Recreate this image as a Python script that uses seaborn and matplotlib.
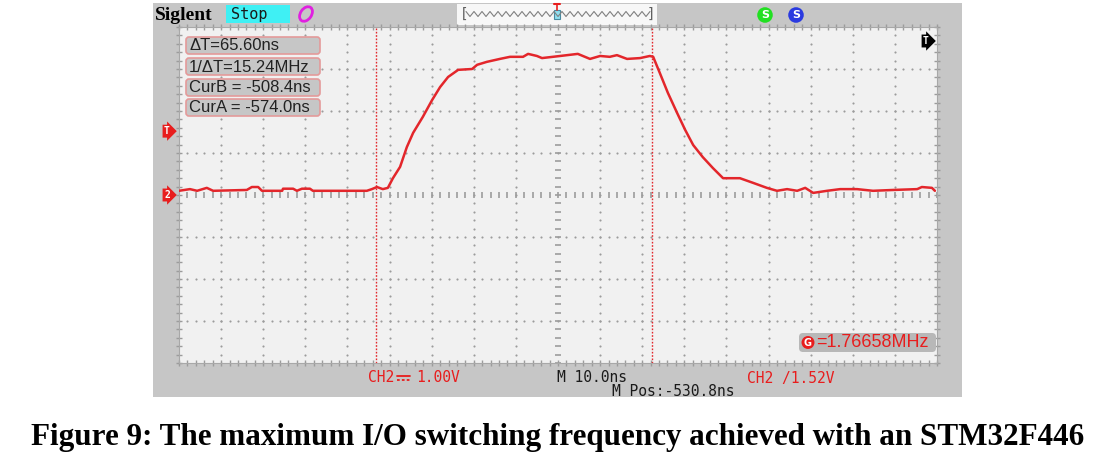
import numpy as np
import pandas as pd
import matplotlib.pyplot as plt
import matplotlib.transforms as mtransforms
from matplotlib.patches import Rectangle, FancyBboxPatch, Ellipse
import seaborn as sns

time_ns = [-620.8, -618.2, -616.5, -614.2, -612.7, -604.7, -603.5, -602.0, -601.1,
           -596.3, -596.1, -593.7, -592.8, -591.6, -589.7, -589.0, -576.2, -575.0,
           -573.8, -572.4, -571.2, -570.0, -568.3, -566.7, -565.2, -562.9, -560.7,
           -558.8, -556.9, -554.5, -551.2, -550.0, -547.7, -544.6, -542.2, -539.1,
           -537.9, -535.8, -534.6, -530.3, -526.1, -523.2, -520.8, -518.5, -516.8,
           -514.4, -511.3, -509.0, -508.2, -506.6, -504.7, -502.5, -500.6, -498.7,
           -496.4, -494.0, -491.6, -487.6, -484.5, -481.2, -478.8, -476.4, -474.0,
           -472.1, -470.2, -466.9, -463.8, -459.8, -456.0, -451.2, -445.5, -444.4,
           -442.0, -441.3]
volts = [0.10, 0.14, 0.10, 0.17, 0.10, 0.12, 0.19, 0.19, 0.10,
         0.10, 0.15, 0.15, 0.10, 0.15, 0.15, 0.10, 0.10, 0.14,
         0.19, 0.14, 0.17, 0.40, 0.67, 1.14, 1.48, 1.86, 2.26,
         2.57, 2.81, 2.98, 3.00, 3.10, 3.17, 3.24, 3.29, 3.29,
         3.36, 3.31, 3.26, 3.31, 3.36, 3.24, 3.31, 3.29, 3.33,
         3.24, 3.26, 3.31, 3.29, 2.90, 2.43, 1.95, 1.55, 1.19,
         0.90, 0.64, 0.40, 0.40, 0.29, 0.17, 0.10, 0.14, 0.10,
         0.17, 0.05, 0.10, 0.14, 0.14, 0.10, 0.12, 0.14, 0.19,
         0.17, 0.10]

m_pos = -530.8        # ns, screen centre
time_div = 10.0       # ns/div
volt_div = 1.00       # V/div
trig_level = 1.52     # V
cur_a = -574.0        # ns
cur_b = -508.4        # ns
freq_mhz = 1.76658

df = pd.DataFrame({'t': time_ns, 'v': volts})

RED = '#e3262b'
LRED = '#e81d1d'
FRAME = '#c6c6c6'
SCREEN = '#f1f1f1'
DOT = '#9c9c9c'

sns.set_theme(style='white')
plt.rcParams['font.family'] = ['DejaVu Sans']

W, H = 1108, 467
fig = plt.figure(figsize=(W / 100, H / 100), dpi=100)
fig.patch.set_facecolor('white')


def pixel_axes(z):
    a = fig.add_axes([0, 0, 1, 1], zorder=z)
    a.set_xlim(0, W)
    a.set_ylim(H, 0)
    a.axis('off')
    a.patch.set_alpha(0)
    return a


# background layer (frame, labels, caption) and overlay layer (on-screen readouts)
bg = pixel_axes(0)
top = pixel_axes(10)
bg.add_patch(Rectangle((153, 3), 809, 394, facecolor=FRAME, edgecolor='none'))

# screen axes
sx0, sx1, sy0, sy1 = 179, 937, 27, 363
ax = fig.add_axes([sx0 / W, 1 - sy1 / H, (sx1 - sx0) / W, (sy1 - sy0) / H], zorder=2)
ax.set_facecolor(SCREEN)
ax.set_xlim(m_pos - 9 * time_div, m_pos + 9 * time_div)
ax.set_ylim(-4 * volt_div, 4 * volt_div)
ax.set_xticks([])
ax.set_yticks([])
for s in ax.spines.values():
    s.set_color('#a8a8a8')
    s.set_linewidth(0.8)

# graticule: dotted lines every division, sub-dots every 1/5 division
xl, yl = ax.get_xlim(), ax.get_ylim()
fine_t = np.arange(xl[0], xl[1] + 1e-6, time_div / 5)
fine_v = np.arange(yl[0], yl[1] + 1e-6, volt_div / 5)
for k in range(-8, 9):
    if k == 0:
        continue
    ax.scatter(np.full(fine_v.size, m_pos + k * time_div), fine_v, s=2.4, color=DOT, lw=0, zorder=1)
for k in range(-3, 4):
    if k == 0:
        continue
    ax.scatter(fine_t, np.full(fine_t.size, k * volt_div), s=2.4, color=DOT, lw=0, zorder=1)
# centre cross with small dashes
ax.plot(fine_t, np.zeros(fine_t.size), ls='none', marker='|', ms=5, mew=1.2, color=DOT, zorder=1)
ax.plot(np.full(fine_v.size, m_pos), fine_v, ls='none', marker='_', ms=5, mew=1.2, color=DOT, zorder=1)
# edge ticks
for yv in yl:
    ax.plot(fine_t, np.full(fine_t.size, yv), ls='none', marker='|', ms=5, mew=1.0, color=DOT,
            zorder=1, clip_on=False)
for xv in xl:
    ax.plot(np.full(fine_v.size, xv), fine_v, ls='none', marker='_', ms=5, mew=1.0, color=DOT,
            zorder=1, clip_on=False)

# cursors
for c in (cur_a, cur_b):
    ax.axvline(c, color=RED, lw=1.0, ls=(0, (1.2, 1.2)), zorder=2)

# trace
sns.lineplot(data=df, x='t', y='v', ax=ax, color=RED, linewidth=1.8, sort=False,
             estimator=None, zorder=3)
ax.set_xlabel('')
ax.set_ylabel('')

# left-side level markers
tr = mtransforms.blended_transform_factory(ax.transAxes, ax.transData)
for lvl, lab in ((trig_level, 'T'), (0, '2')):
    ax.text(-0.012, lvl, lab, transform=tr, ha='right', va='center', fontsize=7,
            fontweight='bold', color='white', clip_on=False, family='DejaVu Sans Mono',
            bbox=dict(boxstyle='rarrow,pad=0.15', fc=LRED, ec='none'))

# cursor readout boxes
delta = cur_b - cur_a
readouts = [f'\u0394T={delta:.2f}ns',
            f'1/\u0394T={1000 / delta:.2f}MHz',
            f'CurB = {cur_b:.1f}ns',
            f'CurA = {cur_a:.1f}ns']
box_tops = [37, 58, 79, 99]
for txt, y0 in zip(readouts, box_tops):
    top.add_patch(FancyBboxPatch((186, y0), 134, 17, boxstyle='round,pad=0,rounding_size=3',
                                 fc=FRAME, ec='#e49a9a', lw=1.2))
    top.text(189, y0 + 9, txt, ha='left', va='center', fontsize=12, color='#222222',
             family='Liberation Sans')

# frequency counter box
top.add_patch(FancyBboxPatch((799, 333), 137, 19, boxstyle='round,pad=0,rounding_size=4',
                             fc='#b8b8b8', ec='none'))
top.text(808, 342.5, 'G', ha='center', va='center', fontsize=7, fontweight='bold',
         color='white', bbox=dict(boxstyle='circle,pad=0.15', fc=LRED, ec='none'))
top.text(816, 342.5, f'={freq_mhz:.5f}MHz', ha='left', va='center', fontsize=13,
         color=LRED, family='Liberation Sans')

# trigger position marker (top right)
top.text(926, 41, 'T', ha='center', va='center', fontsize=7, fontweight='bold', color='white',
         family='DejaVu Sans Mono',
         bbox=dict(boxstyle='rarrow,pad=0.15', fc='black', ec='none'))

# top status bar
bg.text(155, 15, 'Siglent', ha='left', va='center', fontsize=14, fontweight='bold',
        family='Liberation Serif', color='black')
bg.add_patch(Rectangle((226, 5), 64, 18, fc='#3ff0f4', ec='none'))
bg.text(231, 14, 'Stop', ha='left', va='center', fontsize=11, color='#1a1a1a',
        family='DejaVu Sans Mono')
bg.add_patch(Ellipse((306, 14), 11, 16, angle=35, fc='none', ec='#e020e0', lw=2.0))
bg.add_patch(Rectangle((457, 4), 200, 21, fc='#f7f7f7', ec='none'))
# memory overview: bracketed zigzag with the trigger position mark
zz_x = np.linspace(466, 650, 47)
zz_y = 14 + np.where(np.arange(zz_x.size) % 2 == 0, -2.5, 2.5)
bg.plot(zz_x, zz_y, color='#808080', lw=0.8)
bg.text(460, 14, '[', ha='left', va='center', fontsize=10, color='#606060', family='DejaVu Sans Mono')
bg.text(655, 14, ']', ha='right', va='center', fontsize=10, color='#606060', family='DejaVu Sans Mono')
bg.add_patch(Rectangle((554, 10), 6, 9, fc='#8fe0f0', ec='#4a8aa0', lw=0.8))
bg.plot([557, 557], [4, 10], color=LRED, lw=1.2)
bg.plot([554, 560], [4, 4], color=LRED, lw=1.5)
bg.text(765, 15, 'S', ha='center', va='center', fontsize=8, fontweight='bold', color='white',
        bbox=dict(boxstyle='circle,pad=0.25', fc='#22e022', ec='none'))
bg.text(796, 15, 'S', ha='center', va='center', fontsize=8, fontweight='bold', color='white',
        bbox=dict(boxstyle='circle,pad=0.25', fc='#2a3ae0', ec='none'))

# bottom status line (DC coupling sign drawn as a solid bar over a dashed bar)
bg.text(368, 378, 'CH2', ha='left', va='center', fontsize=10.5, color=LRED,
        family='DejaVu Sans Mono')
bg.plot([397, 410], [375.5, 375.5], color=LRED, lw=1.3)
bg.plot([397, 410], [380, 380], color=LRED, lw=1.3, ls=(0, (1.5, 1.2)))
bg.text(416, 378, f'{volt_div:.2f}V', ha='left', va='center', fontsize=10.5, color=LRED,
        family='DejaVu Sans Mono')
bg.text(557, 378, f'M {time_div:.1f}ns', ha='left', va='center', fontsize=10.5,
        color='#1a1a1a', family='DejaVu Sans Mono')
bg.text(612, 391, f'M Pos:{m_pos:.1f}ns', ha='left', va='center', fontsize=10.5,
        color='#1a1a1a', family='DejaVu Sans Mono')
bg.text(747, 378, f'CH2 /{trig_level:.2f}V', ha='left', va='center', fontsize=10.5,
        color=LRED, family='DejaVu Sans Mono')

# caption
bg.text(558, 437, 'Figure 9: The maximum I/O switching frequency achieved with an STM32F446',
        ha='center', va='center', fontsize=22.4, fontweight='bold', family='Liberation Serif',
        color='black')

fig.savefig('out.png', dpi=100)
